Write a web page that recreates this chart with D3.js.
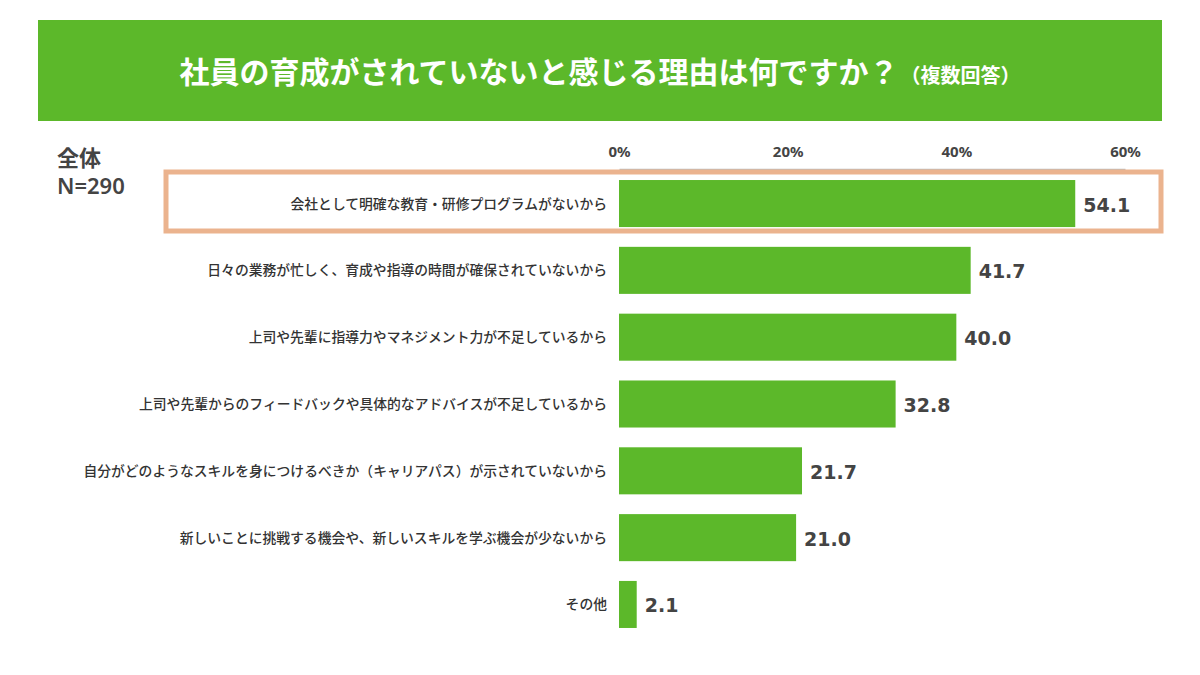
<!DOCTYPE html>
<html><head><meta charset="utf-8">
<script src="https://cdn.jsdelivr.net/npm/d3@7"></script>
<style>
html,body{margin:0;padding:0;background:#fff;}
svg{display:block;font-family:"Noto Sans CJK JP","Noto Sans",sans-serif;}
</style></head>
<body><svg id="c" width="1200" height="675"></svg>
<script>
const categories = [
  "会社として明確な教育・研修プログラムがないから",
  "日々の業務が忙しく、育成や指導の時間が確保されていないから",
  "上司や先輩に指導力やマネジメント力が不足しているから",
  "上司や先輩からのフィードバックや具体的なアドバイスが不足しているから",
  "自分がどのようなスキルを身につけるべきか（キャリアパス）が示されていないから",
  "新しいことに挑戦する機会や、新しいスキルを学ぶ機会が少ないから",
  "その他"
];
const values = [54.1, 41.7, 40.0, 32.8, 21.7, 21.0, 2.1];
const tickValues = [0, 20, 40, 60];
const titleMain = "社員の育成がされていないと感じる理由は何ですか？";
const titleSub = "（複数回答）";
const groupLabel = ["全体", "N=290"];

const svg = d3.select("#c");
const green = "#5cb82a";

// header
svg.append("rect").attr("x",38).attr("y",20).attr("width",1124).attr("height",101).attr("fill",green);
const t = svg.append("text").attr("x",600).attr("y",83).attr("text-anchor","middle")
  .attr("fill","#fff").attr("font-weight","bold");
t.append("tspan").attr("font-size",30).text(titleMain);
t.append("tspan").attr("font-size",20).attr("dx",2).text(titleSub);

// group label
svg.append("text").attr("x",57).attr("y",166).attr("font-size",22).attr("font-weight","bold").attr("fill","#444").text(groupLabel[0]);
svg.append("text").attr("x",57).attr("y",194).attr("font-size",22).attr("font-weight","600").attr("fill","#444")
  .attr("font-family","'Noto Sans','Open Sans',sans-serif").text(groupLabel[1]);

const x = d3.scaleLinear().domain([0,60]).range([619,1125]);
const y = d3.scaleBand().domain(categories).range([170,638]).paddingInner(0.296).paddingOuter(0.15);

// axis
const axis = d3.axisTop(x).tickValues(tickValues).tickFormat(d=>d+"%").tickSize(0).tickPadding(12);
const ag = svg.append("g").attr("transform","translate(0,169)").call(axis);
ag.select(".domain").attr("stroke","#bbb").attr("stroke-width",1.5);
ag.selectAll("text").attr("font-size",15).attr("font-weight","bold").attr("fill","#444")
  .attr("font-family","'Noto Sans','Open Sans',sans-serif");

// highlight box
svg.append("rect").attr("x",166).attr("y",172).attr("width",995).attr("height",59)
  .attr("fill","#fff").attr("stroke","#ebb38e").attr("stroke-width",5);

// bars
svg.append("g").selectAll("rect").data(values).join("rect")
  .attr("x",x(0)).attr("y",(d,i)=>y(categories[i]))
  .attr("width",d=>x(d)-x(0)).attr("height",y.bandwidth()).attr("fill",green);

// values
svg.append("g").selectAll("text").data(values).join("text")
  .attr("x",d=>x(d)+8).attr("y",(d,i)=>y(categories[i])+y.bandwidth()/2+8)
  .attr("font-size",19).attr("font-weight","bold").attr("fill","#444")
  .attr("font-family","Verdana,'DejaVu Sans',sans-serif")
  .text(d=>d.toFixed(1));

// category labels
svg.append("g").selectAll("text").data(categories).join("text")
  .attr("x",607).attr("y",d=>y(d)+y.bandwidth()/2+5)
  .attr("text-anchor","end").attr("font-size",13.8).attr("font-weight","500").attr("fill","#333")
  .text(d=>d);
</script></body></html>
